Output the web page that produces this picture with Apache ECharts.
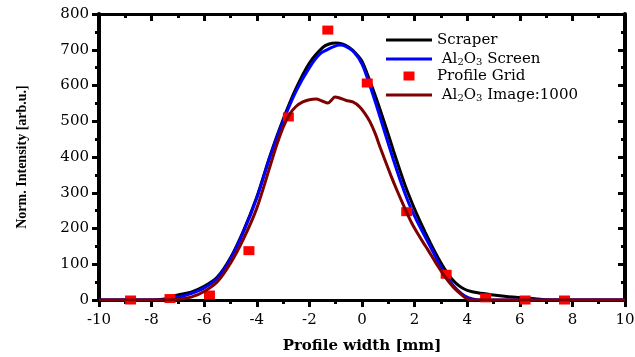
<!DOCTYPE html>
<html><head><meta charset="utf-8">
<script src="https://cdn.jsdelivr.net/npm/echarts@6/dist/echarts.min.js"></script>
<style>html,body{margin:0;padding:0;background:#fff}#c{width:635px;height:357px}</style>
</head><body><div id="c"></div>
<script>
const xTicks = [-10,-8,-6,-4,-2,0,2,4,6,8,10];
const yTicks = [0,100,200,300,400,500,600,700,800];
const scraper = [[-10,0],[-8,0],[-7.5,3],[-7.2,10],[-7.0,14],[-6.5,22],[-6.0,38],[-5.5,64],[-5.0,118],[-4.5,195],[-4.0,288],[-3.5,403],[-3.0,505],[-2.5,593],[-2.0,663],[-1.5,706],[-1.25,716],[-1.0,719],[-0.75,716],[-0.5,707],[-0.25,691],[0,668],[0.2,632],[0.4,593],[0.6,552],[0.8,508],[1.0,463],[1.2,417],[1.4,372],[1.6,329],[1.8,290],[2.0,254],[2.2,221],[2.4,190],[2.6,160],[2.8,131],[3.0,104],[3.2,80],[3.4,60],[3.6,45],[3.8,34],[4.0,27],[4.4,20],[5.0,14],[5.5,10],[6.0,7],[6.5,4],[7.0,1],[7.5,0],[10,0]];
const screen = [[-10,0],[-8,0],[-7.5,1],[-7.0,8],[-6.5,18],[-6.0,34],[-5.5,61],[-5.0,115],[-4.5,192],[-4.0,285],[-3.5,400],[-3.0,500],[-2.5,585],[-2.0,650],[-1.6,688],[-1.3,701],[-1.1,708],[-0.85,713],[-0.6,709],[-0.3,693],[0,660],[0.3,600],[0.6,532],[0.9,461],[1.2,391],[1.5,325],[1.8,267],[2.1,219],[2.4,177],[2.7,135],[3.0,92],[3.3,56],[3.6,30],[3.9,12],[4.2,3],[4.5,0],[10,0]];
const gridPts = [[-8.8,0],[-7.3,4],[-5.8,14],[-4.3,138],[-2.8,512],[-1.3,755],[0.2,607],[1.7,247],[3.2,72],[4.7,6],[6.2,0],[7.7,0]];
const image1000 = [[-10,0],[-7.5,0],[-7.0,2],[-6.5,8],[-6.0,24],[-5.5,51],[-5.0,103],[-4.5,172],[-4.0,257],[-3.5,373],[-3.25,432],[-3.0,483],[-2.75,520],[-2.5,542],[-2.25,554],[-2.0,560],[-1.75,562],[-1.5,556],[-1.3,551],[-1.15,560],[-1.03,568],[-0.85,565],[-0.6,558],[-0.35,554],[-0.1,541],[0.1,523],[0.3,499],[0.5,466],[0.7,425],[0.9,386],[1.1,348],[1.3,312],[1.5,278],[1.7,245],[1.9,214],[2.1,188],[2.3,164],[2.5,141],[2.7,117],[2.9,93],[3.1,71],[3.3,51],[3.5,34],[3.7,20],[3.9,8],[4.1,0],[10,0]];

const serif = '"Liberation Serif","DejaVu Serif",serif';
const wide = '"DejaVu Serif","Liberation Serif",serif';
const chart = echarts.init(document.getElementById('c'));
const xLine = {show:true, onZero:false, lineStyle:{color:'#000', width:3}};
const yLine = {show:true, onZero:false, lineStyle:{color:'#000', width:4}};
const tick = (inside)=>({show:true, inside:inside, length:7, lineStyle:{color:'#000', width:3}});
const minor = ()=>({show:true, splitNumber:2, length:4, lineStyle:{color:'#000', width:3}});
const sub = {fontSize:10, verticalAlign:'bottom', padding:[8,0,0,0], fontFamily:wide, color:'#000', lineHeight:14};
const legendLine = 'path://M0,0h46v3h-46z';
chart.setOption({
  animation:false,
  grid:{left:99, right:10, top:14, bottom:57, containLabel:false, outerBoundsMode:'none'},
  legend:{
    orient:'vertical', left:381, top:27, itemWidth:46, itemHeight:9, itemGap:1,
    symbolKeepAspect:true,
    textStyle:{fontFamily:wide, fontSize:15, color:'#000', lineHeight:16, rich:{sub:sub, n:{fontFamily:wide, fontSize:15, color:'#000', lineHeight:16}}},
    formatter: function(name){
      if(name==='Al2O3 Screen') return '{n| Al}{sub|2}{n|O}{sub|3}{n| Screen}';
      if(name==='Al2O3 Image:1000') return '{n| Al}{sub|2}{n|O}{sub|3}{n| Image:1000}';
      return '{n|'+name+'}';
    },
    data:[{name:'Scraper', icon:legendLine},{name:'Al2O3 Screen', icon:legendLine},{name:'Profile Grid', icon:'path://M0,0h11v9h-11z'},{name:'Al2O3 Image:1000', icon:legendLine}]
  },
  xAxis:[{
    type:'value', min:-10, max:10, interval:2,
    axisLine:xLine, axisTick:tick(false), minorTick:minor(),
    splitLine:{show:false}, minorSplitLine:{show:false},
    axisLabel:{fontFamily:wide, fontSize:15, color:'#000', margin:13},
    name:'Profile width [mm]', nameLocation:'middle', nameGap:39,
    nameTextStyle:{fontFamily:wide, fontSize:15, fontWeight:'bold', color:'#000'}
  },{
    type:'value', min:-10, max:10, interval:2, position:'top',
    axisLine:xLine, axisTick:tick(true), minorTick:minor(),
    splitLine:{show:false}, axisLabel:{show:false}
  }],
  yAxis:[{
    type:'value', min:0, max:800, interval:100,
    axisLine:yLine, axisTick:tick(false), minorTick:minor(),
    splitLine:{show:false},
    axisLabel:{fontFamily:wide, fontSize:15, color:'#000', margin:10},
    name:'Norm. Intensity [arb.u.]', nameLocation:'middle', nameGap:70,
    nameTextStyle:{fontFamily:serif, fontSize:14, fontWeight:'bold', color:'#000'}
  },{
    type:'value', min:0, max:800, interval:100, position:'right',
    axisLine:yLine, axisTick:tick(true), minorTick:minor(),
    splitLine:{show:false}, axisLabel:{show:false}
  }],
  series:[
    {name:'Scraper', type:'line', data:scraper, smooth:0.3, symbol:'none', lineStyle:{color:'#000', width:3}, itemStyle:{color:'#000'}, z:2},
    {name:'Al2O3 Screen', type:'line', data:screen, smooth:0.3, symbol:'none', lineStyle:{color:'#0000ff', width:3}, itemStyle:{color:'#0000ff'}, z:3},
    {name:'Profile Grid', type:'scatter', data:gridPts, symbol:'rect', symbolSize:[11,9], itemStyle:{color:'#ff0000', opacity:1}, z:4},
    {name:'Al2O3 Image:1000', type:'line', data:image1000, smooth:0.3, symbol:'none', lineStyle:{color:'#7f0000', width:3}, itemStyle:{color:'#7f0000'}, z:5}
  ]
});
</script></body></html>
